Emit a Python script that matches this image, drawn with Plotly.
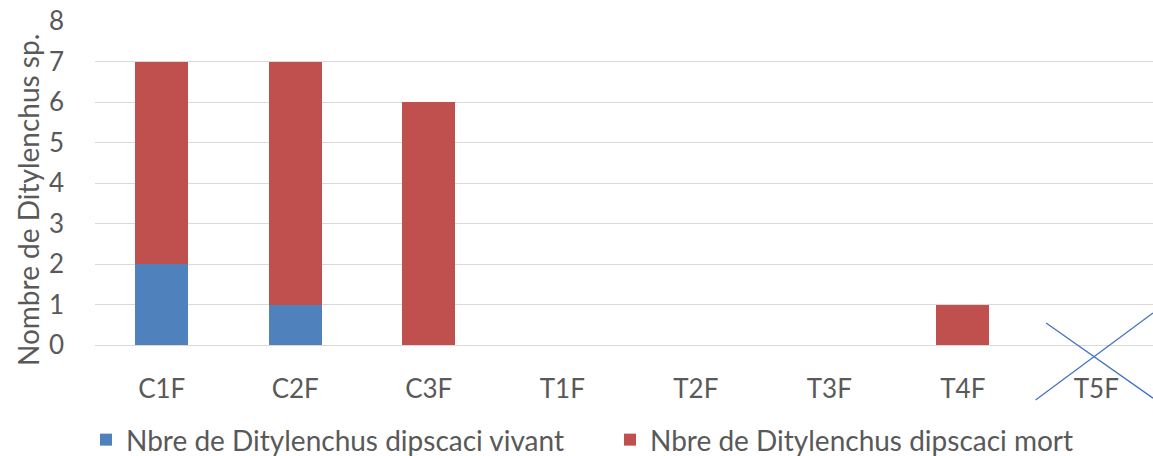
import plotly.graph_objects as go

categories = ["C1F", "C2F", "C3F", "T1F", "T2F", "T3F", "T4F", "T5F"]
vivant = [2, 1, 0, 0, 0, 0, 0, 0]
mort = [5, 6, 6, 0, 0, 0, 1, 0]
y_ticks = [0, 1, 2, 3, 4, 5, 6, 7, 8]
y_title = "Nombre de Ditylenchus sp."

FONT = "Lato"
GREY = "#595959"

fig = go.Figure()
fig.add_trace(go.Bar(x=categories, y=vivant, name="Nbre de Ditylenchus dipscaci vivant",
                     marker=dict(color="#4F81BD", line=dict(width=0)), width=0.4, legend="legend"))
fig.add_trace(go.Bar(x=categories, y=mort, name="Nbre de Ditylenchus dipscaci mort",
                     marker=dict(color="#C0504D", line=dict(width=0)), width=0.4, legend="legend2"))

# cross over T5F
cross_color = "#4472C4"
fig.add_shape(type="line", xref="paper", yref="paper", x0=0.899, y0=0.068, x1=1.0, y1=-0.164,
              line=dict(color=cross_color, width=1.3))
fig.add_shape(type="line", xref="paper", yref="paper", x0=0.889, y0=-0.170, x1=1.0, y1=0.099,
              line=dict(color=cross_color, width=1.3))

# y-axis title placed as a rotated annotation
fig.add_annotation(text=y_title, textangle=-90, xref="paper", yref="paper",
                   x=(28 - 95) / 1058, y=(345 - 200) / 324, xanchor="center", yanchor="middle",
                   showarrow=False, font=dict(family=FONT, size=28, color=GREY))

leg_common = dict(orientation="h", yanchor="middle", y=-0.293, xanchor="left",
                  font=dict(family=FONT, size=28, color=GREY), itemwidth=30,
                  bgcolor="rgba(0,0,0,0)")

fig.update_layout(
    barmode="stack",
    width=1153, height=456,
    margin=dict(l=95, r=0, t=21, b=111, autoexpand=False),
    plot_bgcolor="white", paper_bgcolor="white",
    font=dict(family=FONT, size=26, color=GREY),
    showlegend=True,
    legend=dict(x=(86 - 95) / 1058, **leg_common),
    legend2=dict(x=(610 - 95) / 1058, **leg_common),
    xaxis=dict(range=[-0.5, 7.425], showgrid=False, showline=True, linecolor="#d9d9d9",
               linewidth=1, ticks="", ticklabelstandoff=21, automargin=False,
               tickfont=dict(family=FONT, size=26, color=GREY), fixedrange=True),
    yaxis=dict(range=[0, 8], tickvals=y_ticks, showgrid=True, gridcolor="#d9d9d9", gridwidth=1,
               zeroline=False, showline=False, ticks="", ticklabelstandoff=30, automargin=False,
               ticklabeloverflow="allow",
               tickfont=dict(family=FONT, size=26, color=GREY)),
)

fig.write_html("out.html", config={"displayModeBar": False},
               post_script="document.body.style.margin='0';document.body.style.overflow='hidden';")
